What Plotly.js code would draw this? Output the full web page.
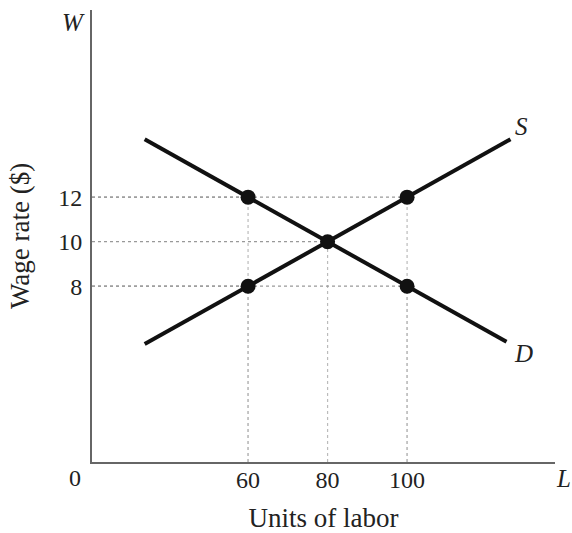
<!DOCTYPE html>
<html>
<head>
<meta charset="utf-8">
<script src="https://cdn.plot.ly/plotly-3.0.1.min.js"></script>
<style>html,body{margin:0;padding:0;background:#fff;}#chart{width:572px;height:533px;}</style>
</head>
<body>
<div id="chart"></div>
<script>
// Data
const supplyX = [34, 126];
const supplyY = [5.4, 14.6];
const demandX = [34, 125];
const demandY = [14.6, 5.5];
const pointsX = [60, 80, 100, 60, 100];
const pointsY = [12, 10, 12, 8, 8];
const xTicks = [60, 80, 100];
const yTicks = [8, 10, 12];
const xTickText = ["60", "80", "100"];
const yTickText = ["8", "10", "12"];
// guide lines: each point projected to both axes
const guideX = [60, 80, 100, 60, 100];
const guideY = [12, 10, 12, 8, 8];

const xMin = 20.75, yMin = 0.1;
const serif = "Liberation Serif, DejaVu Serif, serif";
const txt = "#222";

const traces = [
  {x: supplyX, y: supplyY, mode: "lines", line: {color: "#111", width: 4}, hoverinfo: "skip"},
  {x: demandX, y: demandY, mode: "lines", line: {color: "#111", width: 4}, hoverinfo: "skip"},
  {x: pointsX, y: pointsY, mode: "markers", marker: {color: "#111", size: 15}, hoverinfo: "skip"}
];

const shapes = [];
for (let i = 0; i < guideX.length; i++) {
  shapes.push({type: "line", xref: "x", yref: "y", x0: xMin, x1: guideX[i], y0: guideY[i], y1: guideY[i],
    line: {color: "#999", width: 1.2, dash: "dot"}, layer: "below"});
  shapes.push({type: "line", xref: "x", yref: "y", x0: guideX[i], x1: guideX[i], y0: yMin, y1: guideY[i],
    line: {color: "#bbb", width: 1.2, dash: "dot"}, layer: "below"});
}

const layout = {
  width: 572, height: 533,
  margin: {l: 92, r: 17, t: 10, b: 71},
  paper_bgcolor: "#fff", plot_bgcolor: "#fff",
  showlegend: false,
  font: {family: serif, color: txt, size: 24},
  xaxis: {
    range: [xMin, 137.2], showgrid: false, zeroline: false,
    showline: true, linecolor: "#666", linewidth: 2, mirror: false,
    tickvals: xTicks, ticktext: xTickText, ticks: "", ticklabelstandoff: -5,
    tickfont: {family: serif, size: 24, color: txt},
    title: {text: "Units of labor", font: {family: serif, size: 27, color: txt}, standoff: 17}
  },
  yaxis: {
    range: [yMin, 20.41], showgrid: false, zeroline: false,
    showline: true, linecolor: "#666", linewidth: 2,
    tickvals: yTicks, ticktext: yTickText, ticks: "", ticklabelstandoff: 3,
    tickfont: {family: serif, size: 24, color: txt},
    title: {text: "Wage rate ($)", font: {family: serif, size: 27, color: txt}, standoff: 21}
  },
  shapes: shapes,
  annotations: [
    {xref: "paper", yref: "paper", x: 0, y: 0, text: "0", showarrow: false, xanchor: "center", yanchor: "middle", xshift: -17, yshift: -16, font: {family: serif, size: 24, color: txt}},
    {xref: "paper", yref: "paper", x: 0, y: 1, text: "<i>W</i>", showarrow: false, xanchor: "center", yanchor: "middle", xshift: -19, yshift: -12, font: {family: serif, size: 25, color: txt}},
    {xref: "paper", yref: "paper", x: 1, y: 0, text: "<i>L</i>", showarrow: false, xanchor: "center", yanchor: "middle", xshift: 8, yshift: -16, font: {family: serif, size: 25, color: txt}},
    {xref: "x", yref: "y", x: supplyX[1], y: supplyY[1], text: "<i>S</i>", showarrow: false, xanchor: "center", yanchor: "middle", xshift: 11, yshift: 13, font: {family: serif, size: 25, color: txt}},
    {xref: "x", yref: "y", x: demandX[1], y: demandY[1], text: "<i>D</i>", showarrow: false, xanchor: "center", yanchor: "middle", xshift: 17, yshift: -12, font: {family: serif, size: 25, color: txt}}
  ]
};

Plotly.newPlot("chart", traces, layout, {displayModeBar: false, staticPlot: true});
</script>
</body>
</html>
